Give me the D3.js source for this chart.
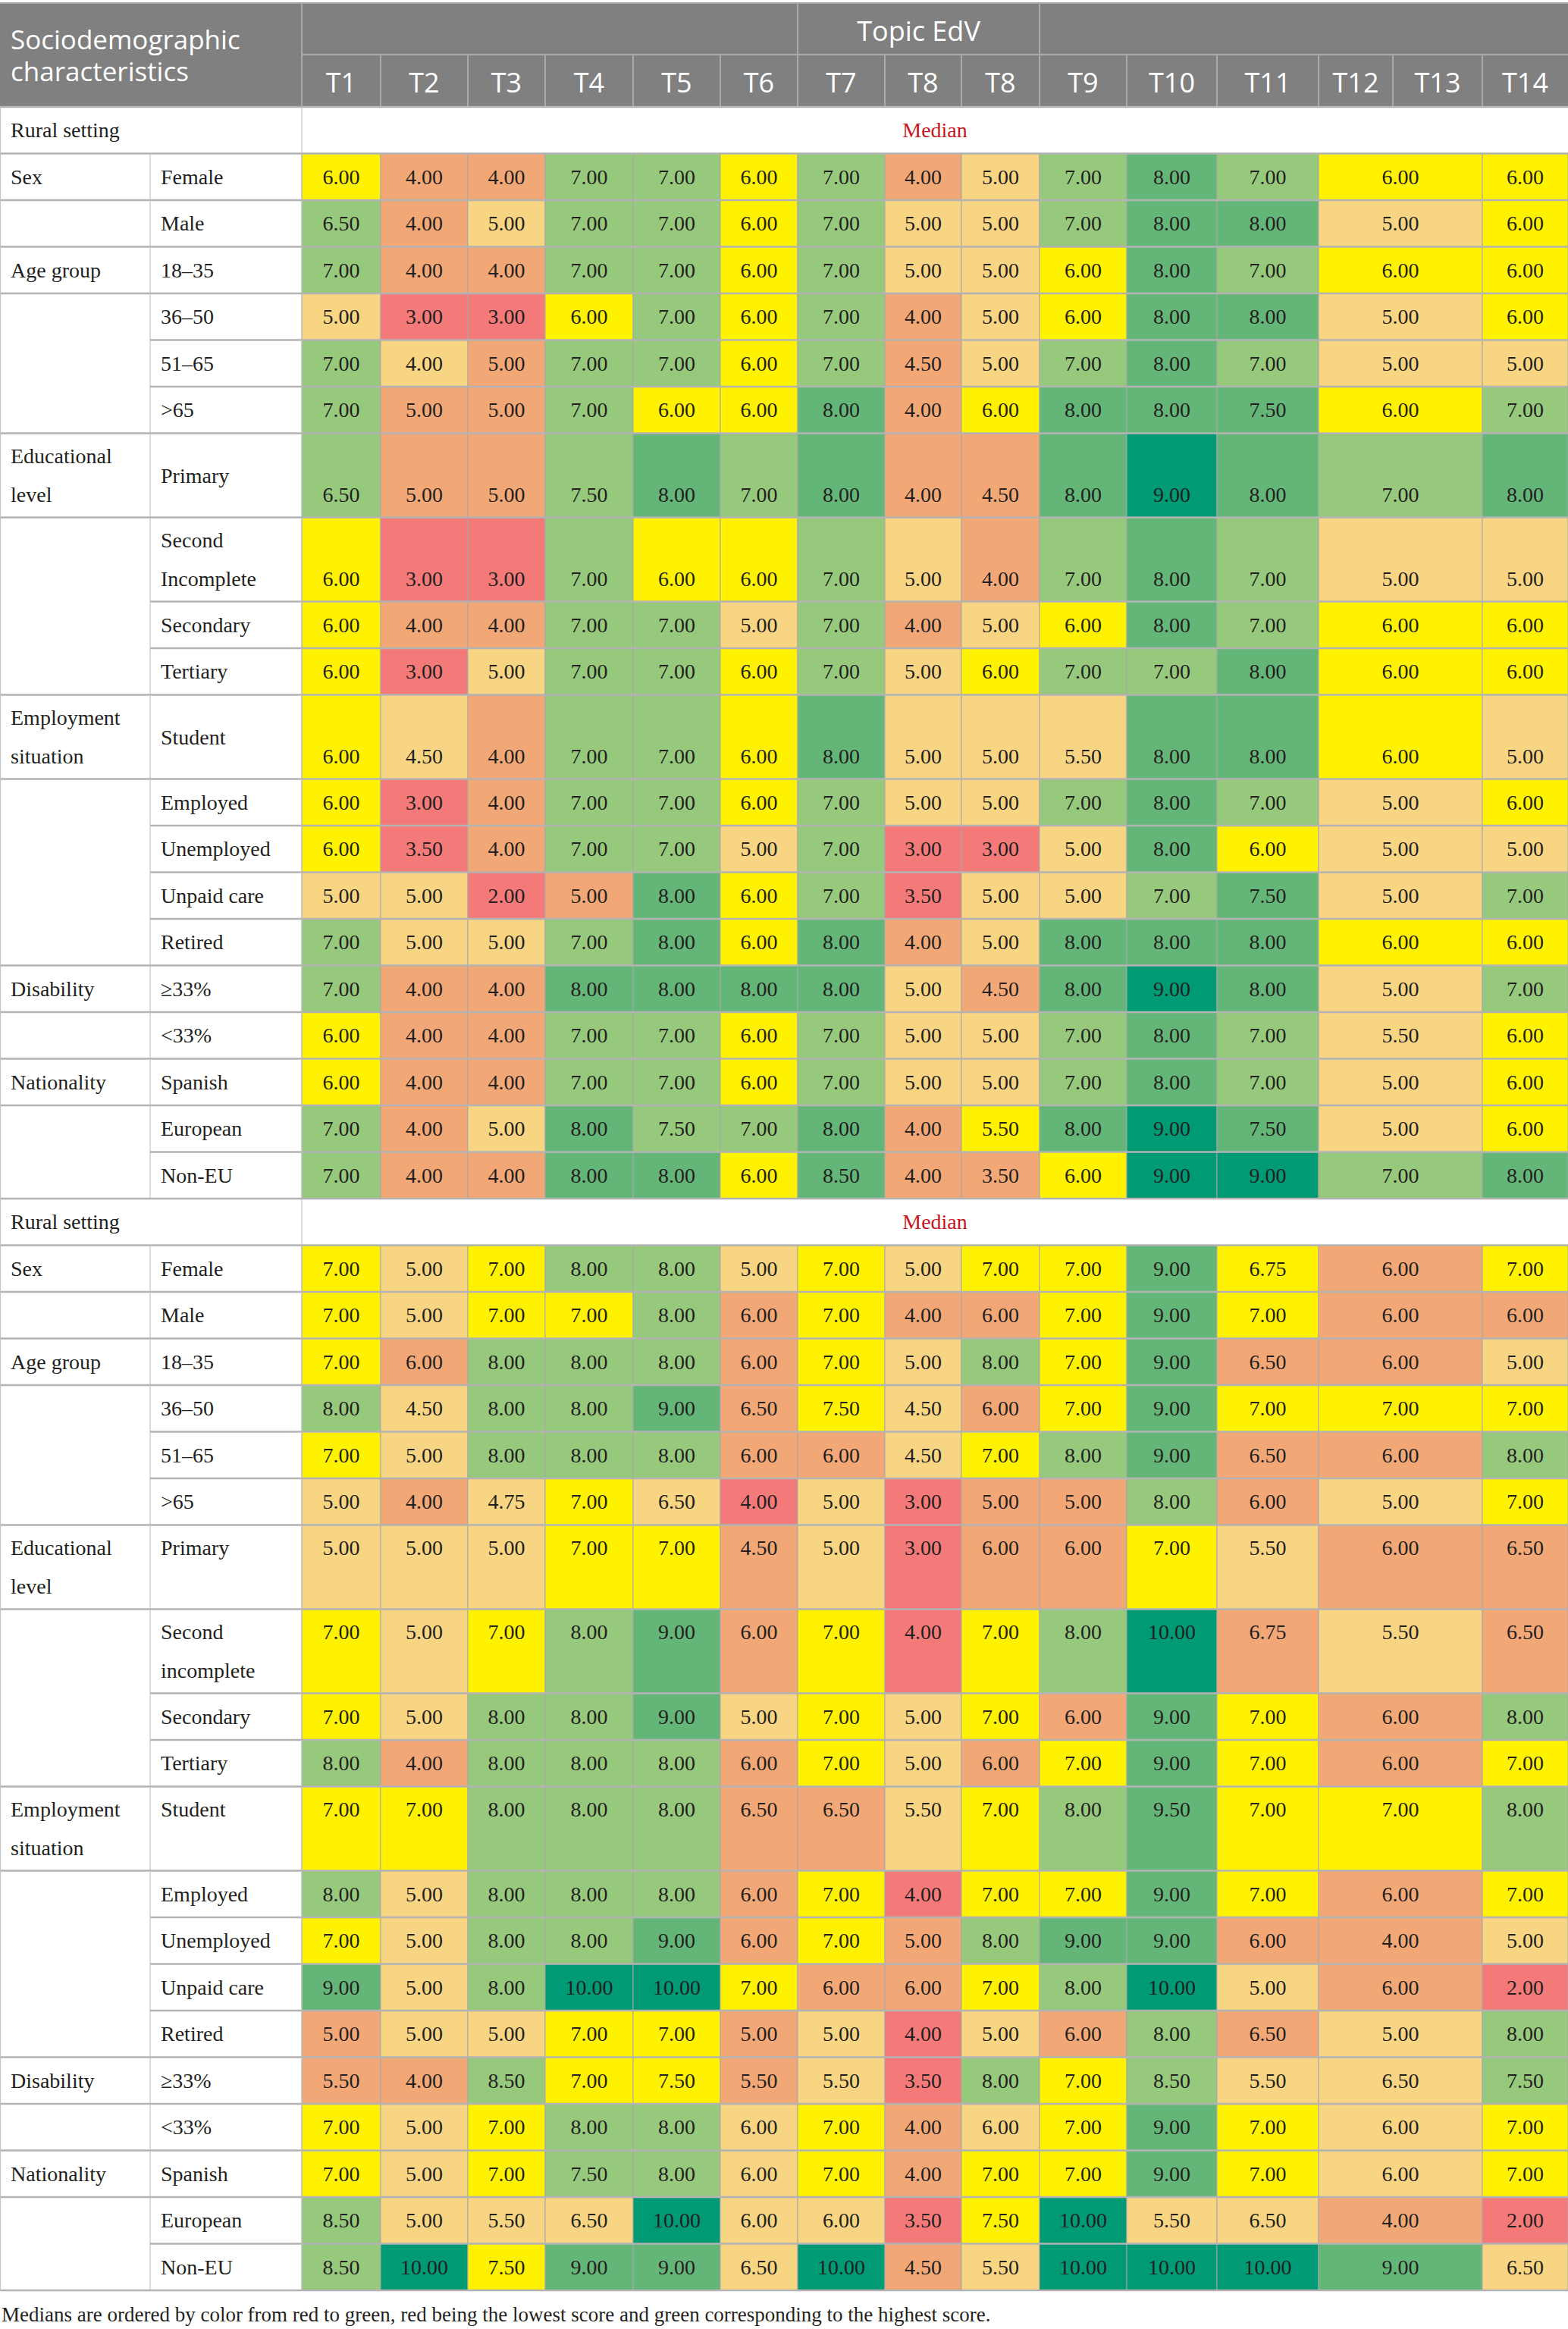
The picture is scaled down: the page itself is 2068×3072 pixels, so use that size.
<!DOCTYPE html>
<html>
<head>
<meta charset="utf-8">
<script src="https://cdn.jsdelivr.net/npm/d3@7/dist/d3.min.js"></script>
<style>
  html, body { margin: 0; padding: 0; background: #fff; }
  svg { display: block; }
</style>
</head>
<body>
<div id="chart"></div>
<script>
// ==============================================
// DATA
// ==============================================
const TOPICS = ['T1','T2','T3','T4','T5','T6','T7','T8','T8','T9','T10','T11','T12','T13','T14'];
const MERGED = [12, 13];               // T12 + T13 share one value cell in the body

const GROUPS      = ['Sex', 'Age group', 'Educational\nlevel', 'Employment\nsituation', 'Disability', 'Nationality'];
const GROUP_SIZES = [2, 4, 4, 5, 2, 3];

const SETTINGS = ['Rural setting', 'Rural setting'];
const MEASURE  = 'Median';

const SUBGROUPS_A = ['Female','Male','18–35','36–50','51–65','>65','Primary','Second\nIncomplete','Secondary','Tertiary',
  'Student','Employed','Unemployed','Unpaid care','Retired','≥33%','<33%','Spanish','European','Non-EU'];
const SUBGROUPS_B = ['Female','Male','18–35','36–50','51–65','>65','Primary','Second\nincomplete','Secondary','Tertiary',
  'Student','Employed','Unemployed','Unpaid care','Retired','≥33%','<33%','Spanish','European','Non-EU'];

// medians, columns T1..T11, T12–T13, T14
const MEDIANS_A = [
  [6, 4, 4, 7, 7, 6, 7, 4, 5, 7, 8, 7, 6, 6],
  [6.5, 4, 5, 7, 7, 6, 7, 5, 5, 7, 8, 8, 5, 6],
  [7, 4, 4, 7, 7, 6, 7, 5, 5, 6, 8, 7, 6, 6],
  [5, 3, 3, 6, 7, 6, 7, 4, 5, 6, 8, 8, 5, 6],
  [7, 4, 5, 7, 7, 6, 7, 4.5, 5, 7, 8, 7, 5, 5],
  [7, 5, 5, 7, 6, 6, 8, 4, 6, 8, 8, 7.5, 6, 7],
  [6.5, 5, 5, 7.5, 8, 7, 8, 4, 4.5, 8, 9, 8, 7, 8],
  [6, 3, 3, 7, 6, 6, 7, 5, 4, 7, 8, 7, 5, 5],
  [6, 4, 4, 7, 7, 5, 7, 4, 5, 6, 8, 7, 6, 6],
  [6, 3, 5, 7, 7, 6, 7, 5, 6, 7, 7, 8, 6, 6],
  [6, 4.5, 4, 7, 7, 6, 8, 5, 5, 5.5, 8, 8, 6, 5],
  [6, 3, 4, 7, 7, 6, 7, 5, 5, 7, 8, 7, 5, 6],
  [6, 3.5, 4, 7, 7, 5, 7, 3, 3, 5, 8, 6, 5, 5],
  [5, 5, 2, 5, 8, 6, 7, 3.5, 5, 5, 7, 7.5, 5, 7],
  [7, 5, 5, 7, 8, 6, 8, 4, 5, 8, 8, 8, 6, 6],
  [7, 4, 4, 8, 8, 8, 8, 5, 4.5, 8, 9, 8, 5, 7],
  [6, 4, 4, 7, 7, 6, 7, 5, 5, 7, 8, 7, 5.5, 6],
  [6, 4, 4, 7, 7, 6, 7, 5, 5, 7, 8, 7, 5, 6],
  [7, 4, 5, 8, 7.5, 7, 8, 4, 5.5, 8, 9, 7.5, 5, 6],
  [7, 4, 4, 8, 8, 6, 8.5, 4, 3.5, 6, 9, 9, 7, 8]
];
const MEDIANS_B = [
  [7, 5, 7, 8, 8, 5, 7, 5, 7, 7, 9, 6.75, 6, 7],
  [7, 5, 7, 7, 8, 6, 7, 4, 6, 7, 9, 7, 6, 6],
  [7, 6, 8, 8, 8, 6, 7, 5, 8, 7, 9, 6.5, 6, 5],
  [8, 4.5, 8, 8, 9, 6.5, 7.5, 4.5, 6, 7, 9, 7, 7, 7],
  [7, 5, 8, 8, 8, 6, 6, 4.5, 7, 8, 9, 6.5, 6, 8],
  [5, 4, 4.75, 7, 6.5, 4, 5, 3, 5, 5, 8, 6, 5, 7],
  [5, 5, 5, 7, 7, 4.5, 5, 3, 6, 6, 7, 5.5, 6, 6.5],
  [7, 5, 7, 8, 9, 6, 7, 4, 7, 8, 10, 6.75, 5.5, 6.5],
  [7, 5, 8, 8, 9, 5, 7, 5, 7, 6, 9, 7, 6, 8],
  [8, 4, 8, 8, 8, 6, 7, 5, 6, 7, 9, 7, 6, 7],
  [7, 7, 8, 8, 8, 6.5, 6.5, 5.5, 7, 8, 9.5, 7, 7, 8],
  [8, 5, 8, 8, 8, 6, 7, 4, 7, 7, 9, 7, 6, 7],
  [7, 5, 8, 8, 9, 6, 7, 5, 8, 9, 9, 6, 4, 5],
  [9, 5, 8, 10, 10, 7, 6, 6, 7, 8, 10, 5, 6, 2],
  [5, 5, 5, 7, 7, 5, 5, 4, 5, 6, 8, 6.5, 5, 8],
  [5.5, 4, 8.5, 7, 7.5, 5.5, 5.5, 3.5, 8, 7, 8.5, 5.5, 6.5, 7.5],
  [7, 5, 7, 8, 8, 6, 7, 4, 6, 7, 9, 7, 6, 7],
  [7, 5, 7, 7.5, 8, 6, 7, 4, 7, 7, 9, 7, 6, 7],
  [8.5, 5, 5.5, 6.5, 10, 6, 6, 3.5, 7.5, 10, 5.5, 6.5, 4, 2],
  [8.5, 10, 7.5, 9, 9, 6.5, 10, 4.5, 5.5, 10, 10, 10, 9, 6.5]
];

// colour rank of each cell, 1 = red (lowest) .. 7 = dark green (highest)
const LEVELS_A = [
  '42255452356544', '52355453356634', '52255453346544', '31145452346634', '53255452356533',
  '52254462466645', '52256562267656', '41154453256533', '42255352346544', '41355453455644',
  '43255463336643', '41255453356534', '41255351136433', '33126451335635', '53356462366644',
  '52266663267635', '42255453356534', '42255453356534', '52365562467634', '52266462247756'
];
const LEVELS_B = [
  '43455343446424', '43445242246422', '42555243546223', '53556243246444', '43555223456225',
  '32343131225234', '33344231224322', '43456241457232', '43556343426425', '52555243246424',
  '44555223456445', '53555241446424', '43556242566223', '63577422457321', '23344231325235',
  '22544231545335', '43455342346434', '43455342446434', '53337331473321', '57466372377763'
];

const NOTE = 'Medians are ordered by color from red to green, red being the lowest score and green corresponding to the highest score.';

// ==============================================
// LAYOUT
// ==============================================
const W = 2068, H = 3072;
const COL_W = [198, 200, 104, 115, 102, 116, 115, 102, 115, 101, 103, 115, 119, 134, 98, 118, 113];
const EDGES = [0, ...d3.cumsum(COL_W)];
const HEAD_TOP = 5, HEAD_MID = 72, HEAD_BOT = 141;
const ROW_H = 61.5, ROW_H2 = 111, PAD = 30, GAP = 51;

const SERIF = "'Liberation Serif', 'Times New Roman', serif";
const SANS  = "'Open Sans', 'Noto Sans', sans-serif";
const INK   = '#231f20';

const color = d3.scaleOrdinal()
  .domain([1, 2, 3, 4, 5, 6, 7])
  .range(['#f47a7a', '#f2a876', '#f8d582', '#fff200', '#97c97d', '#64b678', '#009a75']);

const fmt = d3.format('.2f');

// topic index -> left edge
const xTopic = d3.scaleOrdinal()
  .domain(d3.range(TOPICS.length))
  .range(EDGES.slice(2, -1));
const topicW = i => COL_W[i + 2];

// body value columns (T12 and T13 merged)
const valueCols = d3.range(TOPICS.length)
  .filter(i => i !== MERGED[1])
  .map(i => i === MERGED[0] ? [MERGED[0], MERGED[1]] : [i])
  .map(span => ({
    x0: xTopic(span[0]),
    x1: xTopic(span[span.length - 1]) + topicW(span[span.length - 1])
  }));

// ==============================================
// ROWS
// ==============================================
const blocks = [
  { setting: SETTINGS[0], subs: SUBGROUPS_A, medians: MEDIANS_A, levels: LEVELS_A, valign: 'bottom' },
  { setting: SETTINGS[1], subs: SUBGROUPS_B, medians: MEDIANS_B, levels: LEVELS_B, valign: 'top' }
];

const rows = [];
let cursor = HEAD_BOT;
blocks.forEach(b => {
  rows.push({ type: 'setting', label: b.setting, y: cursor, h: ROW_H });
  cursor += ROW_H;
  let i = 0;
  GROUPS.forEach((g, gi) => {
    for (let k = 0; k < GROUP_SIZES[gi]; k++, i++) {
      const group = k === 0 ? g : null;
      const sub   = b.subs[i];
      const tall  = (group && group.includes('\n')) || sub.includes('\n');
      const h     = tall ? ROW_H2 : ROW_H;
      rows.push({
        type: 'data', group, sub, k, tall, valign: b.valign,
        values: b.medians[i],
        levels: b.levels[i].split('').map(Number),
        y: cursor, h
      });
      cursor += h;
    }
  });
});
const tableBottom = cursor;

// ==============================================
// DRAW
// ==============================================
const svg = d3.select('#chart').append('svg')
  .attr('width', W).attr('height', H)
  .attr('viewBox', `0 0 ${W} ${H}`);

svg.append('rect').attr('width', W).attr('height', H).attr('fill', '#fff');

// ---- header ----
const head = svg.append('g');
head.append('rect')
  .attr('x', 0).attr('y', HEAD_TOP)
  .attr('width', W).attr('height', HEAD_BOT - HEAD_TOP)
  .attr('fill', '#808080');

const headLine = (x1, y1, x2, y2) => head.append('line')
  .attr('x1', x1).attr('y1', y1).attr('x2', x2).attr('y2', y2)
  .attr('stroke', '#a9a9a9').attr('stroke-width', 2);

headLine(EDGES[2], HEAD_MID, W, HEAD_MID);
headLine(EDGES[2], HEAD_TOP, EDGES[2], HEAD_BOT);
const topicSpan = [6, 8];   // "Topic EdV" sits over T7..T8
headLine(xTopic(topicSpan[0]), HEAD_TOP, xTopic(topicSpan[0]), HEAD_MID);
headLine(xTopic(topicSpan[1] + 1), HEAD_TOP, xTopic(topicSpan[1] + 1), HEAD_MID);
d3.range(1, TOPICS.length).forEach(i => headLine(xTopic(i), HEAD_MID, xTopic(i), HEAD_BOT));

// two-line title as one text element
const title = head.append('text')
  .attr('font-family', SANS).attr('font-size', '35px')
  .attr('fill', '#fff');
['Sociodemographic', 'characteristics'].forEach((t, i) => {
  title.append('tspan')
    .attr('x', 14).attr('y', 65 + i * 42)
    .text(t);
});

head.append('text')
  .attr('x', (xTopic(topicSpan[0]) + xTopic(topicSpan[1] + 1)) / 2)
  .attr('y', (HEAD_TOP + HEAD_MID) / 2 + 2)
  .attr('text-anchor', 'middle').attr('dominant-baseline', 'central')
  .attr('font-family', SANS).attr('font-size', '36px')
  .attr('fill', '#fff')
  .text('Topic EdV');

head.selectAll('.topic')
  .data(TOPICS).enter()
  .append('text')
  .attr('x', (d, i) => xTopic(i) + topicW(i) / 2)
  .attr('y', (HEAD_MID + HEAD_BOT) / 2 + 2)
  .attr('text-anchor', 'middle').attr('dominant-baseline', 'central')
  .attr('font-family', SANS).attr('font-size', '36px')
  .attr('fill', '#fff')
  .text(d => d);

svg.append('line')
  .attr('x1', 0).attr('x2', W).attr('y1', HEAD_TOP - 1).attr('y2', HEAD_TOP - 1)
  .attr('stroke', '#a9a9a9').attr('stroke-width', 2);

// ---- body cells ----
const body = svg.append('g');
const dataRows = rows.filter(r => r.type === 'data');

const cellData = dataRows.flatMap(r => r.values.map((v, j) => ({ r, v, j, lvl: r.levels[j] })));

body.selectAll('.cell')
  .data(cellData).enter()
  .append('rect')
  .attr('x', d => valueCols[d.j].x0)
  .attr('y', d => d.r.y)
  .attr('width', d => valueCols[d.j].x1 - valueCols[d.j].x0)
  .attr('height', d => d.r.h)
  .attr('fill', d => color(d.lvl))
  .attr('stroke', '#a7a7a7')
  .attr('stroke-width', 1);

const valueY = r => !r.tall ? r.y + r.h / 2
  : (r.valign === 'top' ? r.y + PAD : r.y + PAD + GAP);

body.selectAll('.val')
  .data(cellData).enter()
  .append('text')
  .attr('x', d => (valueCols[d.j].x0 + valueCols[d.j].x1) / 2)
  .attr('y', d => valueY(d.r))
  .attr('text-anchor', 'middle').attr('dominant-baseline', 'central')
  .attr('font-family', SERIF).attr('font-size', '28px')
  .attr('fill', INK)
  .text(d => fmt(d.v));

// ---- labels ----
const labels = svg.append('g')
  .attr('font-family', SERIF).attr('font-size', '28px').attr('fill', INK);

function multiLabel(x, r, str, singleMode) {
  const parts = str.split('\n');
  parts.forEach((t, i) => {
    let y;
    if (parts.length > 1) y = r.y + PAD + i * GAP;
    else if (!r.tall || singleMode === 'middle') y = r.y + r.h / 2;
    else y = r.y + PAD;
    labels.append('text')
      .attr('x', x).attr('y', y)
      .attr('dominant-baseline', 'central')
      .text(t);
  });
}

rows.forEach(r => {
  if (r.type === 'setting') {
    labels.append('text')
      .attr('x', 14).attr('y', r.y + r.h / 2)
      .attr('dominant-baseline', 'central')
      .text(r.label);
    labels.append('text')
      .attr('x', (EDGES[2] + W) / 2).attr('y', r.y + r.h / 2)
      .attr('text-anchor', 'middle').attr('dominant-baseline', 'central')
      .attr('fill', '#c4161c')
      .text(MEASURE);
    return;
  }
  if (r.group) multiLabel(14, r, r.group, 'middle');
  multiLabel(EDGES[1] + 14, r, r.sub, r.valign === 'bottom' ? 'middle' : 'top');
});

// ---- grid lines ----
const grid = svg.append('g').attr('stroke', '#b3b3b3');

rows.forEach(r => {
  const fromX = (r.type === 'setting' || r.k <= 1) ? 0 : EDGES[1];
  grid.append('line')
    .attr('x1', fromX).attr('x2', W).attr('y1', r.y).attr('y2', r.y)
    .attr('stroke-width', 2.5);
  grid.append('line')
    .attr('x1', EDGES[2]).attr('x2', EDGES[2]).attr('y1', r.y).attr('y2', r.y + r.h)
    .attr('stroke', '#c4c4c4').attr('stroke-width', 1.2);
  if (r.type === 'data') {
    grid.append('line')
      .attr('x1', EDGES[1]).attr('x2', EDGES[1]).attr('y1', r.y).attr('y2', r.y + r.h)
      .attr('stroke', '#c4c4c4').attr('stroke-width', 1.2);
  }
});
grid.append('line')
  .attr('x1', 0).attr('x2', W).attr('y1', tableBottom).attr('y2', tableBottom)
  .attr('stroke-width', 2.5);
grid.append('line')
  .attr('x1', 0.5).attr('x2', 0.5).attr('y1', HEAD_BOT).attr('y2', tableBottom)
  .attr('stroke', '#c4c4c4').attr('stroke-width', 1.2);

// ---- footnote ----
svg.append('text')
  .attr('x', 2).attr('y', tableBottom + 32)
  .attr('dominant-baseline', 'central')
  .attr('font-family', SERIF).attr('font-size', '27px')
  .attr('fill', INK)
  .text(NOTE);
</script>
</body>
</html>
